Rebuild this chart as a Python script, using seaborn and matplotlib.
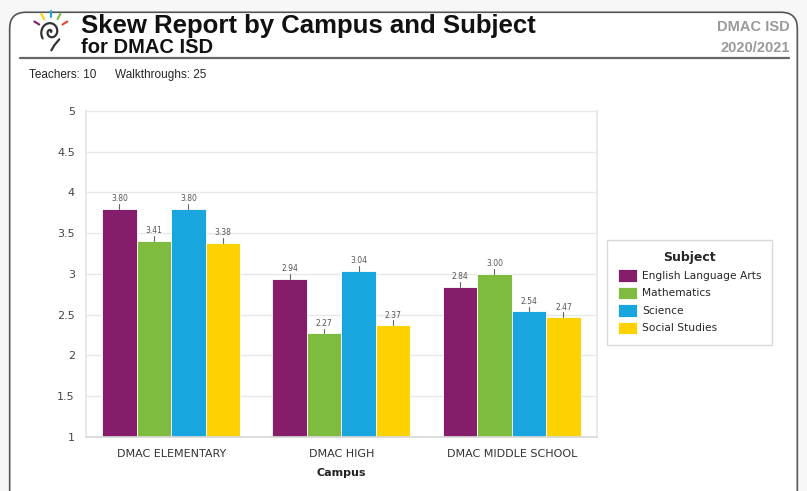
import numpy as np
import pandas as pd
import matplotlib
matplotlib.use("Agg")
import matplotlib.pyplot as plt
from matplotlib.patches import FancyBboxPatch
import seaborn as sns

campuses = ["DMAC ELEMENTARY", "DMAC HIGH", "DMAC MIDDLE SCHOOL"]
subjects = ["English Language Arts", "Mathematics", "Science", "Social Studies"]
ela = [3.80, 2.94, 2.84]
math = [3.41, 2.27, 3.00]
science = [3.80, 3.04, 2.54]
social = [3.38, 2.37, 2.47]
colors = ["#861d6a", "#7fbb3f", "#19a5dd", "#fed100"]

df = pd.DataFrame({
    "Campus": campuses * 4,
    "Subject": np.repeat(subjects, 3),
    "Score": ela + math + science + social,
})

sns.set_theme(style="white")
plt.rcParams["font.family"] = ["DejaVu Sans"]

fig = plt.figure(figsize=(8.07, 4.91), dpi=100)
fig.patch.set_facecolor("#f7f7f7")

# rounded report panel
panel = FancyBboxPatch((0.012, -0.05), 0.976, 1.025, boxstyle="round,pad=0,rounding_size=0.02",
                       transform=fig.transFigure, facecolor="white", edgecolor="#555555",
                       linewidth=1.2, zorder=-10, mutation_aspect=807 / 491)
fig.patches.append(panel)

# header
fig.text(0.100, 0.948, "Skew Report by Campus and Subject", fontsize=18.5, fontweight="bold",
         family="Liberation Sans", va="center", color="#111111")
fig.text(0.100, 0.904, "for DMAC ISD", fontsize=14.5, fontweight="bold",
         family="Liberation Sans", va="center", color="#111111")
fig.text(0.979, 0.945, "DMAC ISD", fontsize=10.5, fontweight="bold", family="Liberation Sans",
         ha="right", va="center", color="#9a9a9a")
fig.text(0.979, 0.903, "2020/2021", fontsize=10.5, fontweight="bold", family="Liberation Sans",
         ha="right", va="center", color="#9a9a9a")
fig.add_artist(plt.Line2D([0.025, 0.978], [0.882, 0.882], transform=fig.transFigure,
                          color="#666666", linewidth=1.6))
fig.text(0.036, 0.848, "Teachers: 10", fontsize=8.5, family="Liberation Sans", va="center")
fig.text(0.143, 0.848, "Walkthroughs: 25", fontsize=8.5, family="Liberation Sans", va="center")

# small spiral logo
logo = fig.add_axes([0.038, 0.895, 0.05, 0.085])
t = np.linspace(0, 3.2 * np.pi, 200)
logo.plot(0.09 * t * np.cos(t), 0.09 * t * np.sin(t), color="#333333", lw=1.6)
logo.plot([0.75, 0.3, 0.05], [-0.6, -1.1, -1.5], color="#333333", lw=1.6)
for ang, c in zip([30, 60, 90, 120, 150], ["#e8462a", "#7fbb3f", "#19a5dd", "#fed100", "#861d6a"]):
    r = np.deg2rad(ang)
    logo.plot([1.2 * np.cos(r), 1.7 * np.cos(r)], [1.2 * np.sin(r), 1.7 * np.sin(r)],
              color=c, lw=1.5)
logo.set_xlim(-1.8, 1.8)
logo.set_ylim(-1.6, 1.8)
logo.axis("off")

# chart
ax = fig.add_axes([0.1066, 0.110, 0.633, 0.664])
sns.barplot(data=df, x="Campus", y="Score", hue="Subject", order=campuses, hue_order=subjects,
            palette=colors, width=0.81, saturation=1, ax=ax, edgecolor="white", linewidth=0.6)

ax.set_xlim(-0.5, len(campuses) - 0.5)
ax.set_ylim(1, 5)
ax.set_yticks(np.arange(1, 5.01, 0.5))
ax.set_yticklabels(["1", "1.5", "2", "2.5", "3", "3.5", "4", "4.5", "5"])
ax.yaxis.grid(True, color="#e8e8e8", linewidth=1)
ax.set_axisbelow(True)
ax.spines["top"].set_visible(False)
for side in ["left", "right"]:
    ax.spines[side].set_color("#e6e6e6")
ax.spines["bottom"].set_color("#d8d8d8")
ax.tick_params(axis="y", labelsize=8, colors="#444444", length=4, color="#e0e0e0", pad=4)
ax.tick_params(axis="x", labelsize=8, colors="#333333", length=0, pad=9)
ax.set_xlabel("Campus", fontsize=8, fontweight="bold", color="#222222", labelpad=6)
ax.set_ylabel("")

# small top markers and value labels
for cont in ax.containers:
    for p in cont.patches:
        xc = p.get_x() + p.get_width() / 2
        top = p.get_height()
        ax.plot([xc, xc], [top, top + 0.06], color="#666666", lw=0.8, zorder=3)
    ax.bar_label(cont, fmt="%.2f", padding=4, fontsize=5.5, color="#555555")

leg = ax.legend(title="Subject", loc="center left", bbox_to_anchor=(1.0196, 0.443),
                fontsize=7.7, title_fontproperties={"weight": "bold", "size": 9},
                frameon=True, handlelength=1.8, handleheight=1.4, borderpad=1.0,
                labelspacing=0.48, handletextpad=0.5, borderaxespad=0,
                fancybox=False, edgecolor="#d0d0d0")
leg.get_frame().set_linewidth(1)

fig.savefig("out.png", dpi=100, facecolor=fig.get_facecolor())
